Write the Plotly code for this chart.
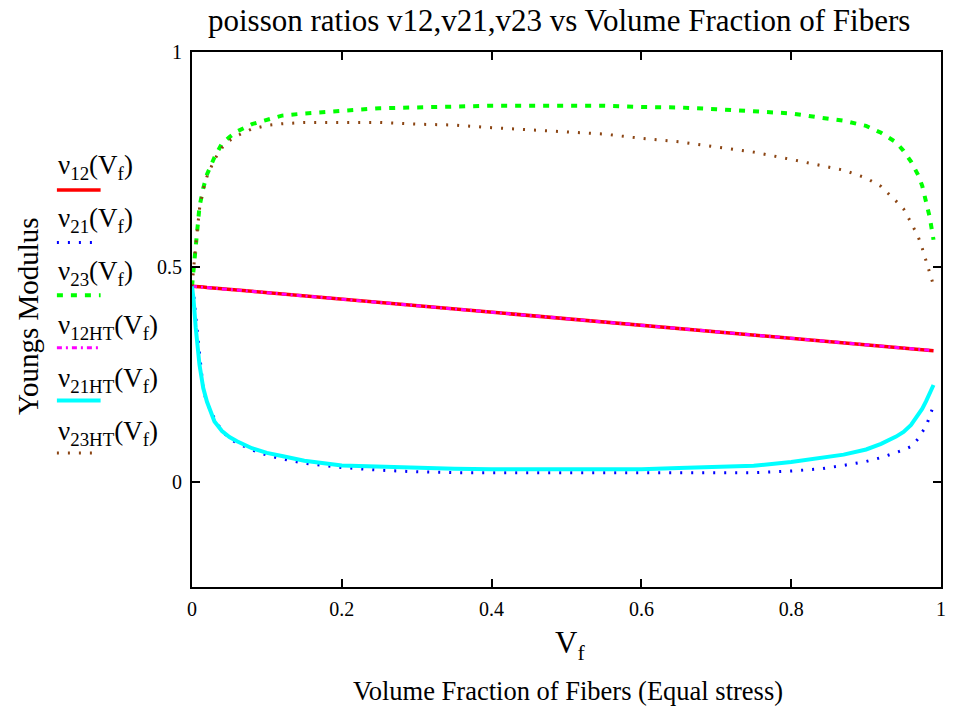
import plotly.graph_objects as go

# ---------------- data ----------------
vf = [0, 0.002, 0.005, 0.01, 0.015, 0.02, 0.03, 0.04, 0.05, 0.06, 0.08, 0.1, 0.12, 0.15,
      0.2, 0.25, 0.3, 0.35, 0.4, 0.45, 0.5, 0.55, 0.6, 0.65, 0.7, 0.75, 0.8, 0.84, 0.87,
      0.9, 0.92, 0.94, 0.95, 0.96, 0.97, 0.975, 0.98, 0.985, 0.99]

nu12 = [0.455, 0.455, 0.454, 0.453, 0.453, 0.452, 0.450, 0.449, 0.447, 0.446, 0.443, 0.440,
        0.437, 0.432, 0.425, 0.417, 0.410, 0.402, 0.394, 0.387, 0.379, 0.372, 0.364, 0.357,
        0.349, 0.341, 0.334, 0.328, 0.323, 0.319, 0.316, 0.313, 0.311, 0.310, 0.308, 0.307,
        0.307, 0.306, 0.305]

nu21 = [0.455, 0.440, 0.385, 0.295, 0.215, 0.183, 0.147, 0.118, 0.101, 0.090, 0.074, 0.062,
        0.053, 0.043, 0.033, 0.027, 0.023, 0.021, 0.021, 0.021, 0.021, 0.021, 0.021, 0.021,
        0.021, 0.021, 0.025, 0.030, 0.038, 0.047, 0.056, 0.067, 0.074, 0.082, 0.101, 0.116,
        0.128, 0.153, 0.177]

nu23 = [0.455, 0.490, 0.565, 0.640, 0.683, 0.715, 0.755, 0.787, 0.802, 0.815, 0.832, 0.843,
        0.852, 0.857, 0.864, 0.869, 0.871, 0.874, 0.875, 0.875, 0.875, 0.875, 0.872, 0.871,
        0.867, 0.863, 0.857, 0.847, 0.840, 0.828, 0.812, 0.790, 0.770, 0.745, 0.712, 0.688,
        0.655, 0.615, 0.563]

nu12HT = [0.455, 0.455, 0.454, 0.453, 0.453, 0.452, 0.450, 0.449, 0.447, 0.446, 0.443, 0.440,
          0.437, 0.432, 0.425, 0.417, 0.410, 0.402, 0.394, 0.387, 0.379, 0.372, 0.364, 0.357,
          0.349, 0.341, 0.334, 0.328, 0.323, 0.319, 0.316, 0.313, 0.311, 0.310, 0.308, 0.307,
          0.307, 0.306, 0.305]

nu21HT = [0.455, 0.425, 0.358, 0.272, 0.218, 0.186, 0.140, 0.118, 0.104, 0.094, 0.078, 0.067,
          0.060, 0.049, 0.038, 0.035, 0.033, 0.030, 0.029, 0.029, 0.029, 0.029, 0.029, 0.032,
          0.034, 0.037, 0.046, 0.056, 0.063, 0.075, 0.088, 0.105, 0.116, 0.132, 0.155, 0.170,
          0.187, 0.206, 0.225]

nu23HT = [0.455, 0.500, 0.550, 0.635, 0.680, 0.710, 0.750, 0.777, 0.794, 0.805, 0.821, 0.829,
          0.833, 0.836, 0.836, 0.836, 0.832, 0.830, 0.824, 0.819, 0.815, 0.809, 0.799, 0.791,
          0.779, 0.767, 0.750, 0.736, 0.725, 0.707, 0.687, 0.653, 0.635, 0.603, 0.568, 0.543,
          0.515, 0.483, 0.457]

series_names = ["12", "21", "23", "12HT", "21HT", "23HT"]
x_ticks = [0, 0.2, 0.4, 0.6, 0.8, 1]
x_tick_labels = ["0", "0.2", "0.4", "0.6", "0.8", "1"]
y_ticks = [0, 0.5, 1]
y_tick_labels = ["0", "0.5", "1"]

# ---------------- styling ----------------
FONT = "Liberation Serif, Times New Roman, serif"
styles = [
    dict(color="#FF0000", width=3.5, dash="solid"),
    dict(color="#0000FF", width=3, dash="2px,9px"),
    dict(color="#00FF00", width=4, dash="6px,8px"),
    dict(color="#FF00FF", width=3, dash="5px,4px,2px,4px"),
    dict(color="#00FFFF", width=4, dash="solid"),
    dict(color="#8B4513", width=3, dash="2px,9px"),
]
all_y = [nu12, nu21, nu23, nu12HT, nu21HT, nu23HT]

fig = go.Figure()
for name, ys, st in zip(series_names, all_y, styles):
    fig.add_trace(go.Scatter(x=vf, y=ys, mode="lines", name="ν" + name,
                             line=dict(color=st["color"], width=st["width"], dash=st["dash"]),
                             showlegend=False, hoverinfo="skip"))

W, H = 954, 715
L, R, T, B = 192, 8, 52, 128
pw, ph = W - L - R, H - T - B

def px_to_paper_x(px):
    return (px - L) / pw

def py_to_paper_y(py):
    return (H - B - py) / ph

annotations = []
shapes = []
# manual legend: label above, line sample below
for i, (name, st) in enumerate(zip(series_names, styles)):
    label_y = 167 + i * 53.2
    line_y = 190 + i * 52.6
    annotations.append(dict(
        text="ν<sub>%s</sub>(V<sub>f</sub>)" % name,
        x=px_to_paper_x(55), y=py_to_paper_y(label_y), xref="paper", yref="paper",
        xanchor="left", yanchor="middle", showarrow=False,
        font=dict(family=FONT, size=27, color="black")))
    shapes.append(dict(type="line", xref="paper", yref="paper",
                       x0=px_to_paper_x(56), x1=px_to_paper_x(100),
                       y0=py_to_paper_y(line_y), y1=py_to_paper_y(line_y),
                       line=dict(color=st["color"], width=st["width"], dash=st["dash"])))

annotations.append(dict(text="Youngs Modulus", textangle=-90,
                        x=px_to_paper_x(27), y=py_to_paper_y(316), xref="paper", yref="paper",
                        xanchor="center", yanchor="middle", showarrow=False,
                        font=dict(family=FONT, size=29, color="black")))
annotations.append(dict(text="V<sub>f</sub>",
                        x=px_to_paper_x(573), y=py_to_paper_y(645), xref="paper", yref="paper",
                        xanchor="center", yanchor="middle", showarrow=False,
                        font=dict(family=FONT, size=31, color="black")))
annotations.append(dict(text="Volume Fraction of Fibers (Equal stress)",
                        x=px_to_paper_x(571), y=py_to_paper_y(691), xref="paper", yref="paper",
                        xanchor="center", yanchor="middle", showarrow=False,
                        font=dict(family=FONT, size=26.5, color="black")))
annotations.append(dict(text="poisson ratios v12,v21,v23 vs Volume Fraction of Fibers",
                        x=px_to_paper_x(561), y=py_to_paper_y(21), xref="paper", yref="paper",
                        xanchor="center", yanchor="middle", showarrow=False,
                        font=dict(family=FONT, size=31, color="black")))

fig.update_layout(
    width=W, height=H,
    margin=dict(l=L, r=R, t=T, b=B),
    paper_bgcolor="white", plot_bgcolor="white",
    font=dict(family=FONT, size=20, color="black"),
    annotations=annotations, shapes=shapes,
    showlegend=False,
)
fig.update_xaxes(range=[0, 1], tickvals=x_ticks, ticktext=x_tick_labels,
                 showgrid=False, zeroline=False, showline=True, linecolor="black", linewidth=2,
                 mirror="ticks", ticks="inside", ticklen=8, tickwidth=2, tickcolor="black",
                 ticklabelstandoff=3, tickfont=dict(family=FONT, size=20))
fig.update_yaxes(range=[-0.245, 1], tickvals=y_ticks, ticktext=y_tick_labels,
                 showgrid=False, zeroline=False, showline=True, linecolor="black", linewidth=2,
                 mirror="ticks", ticks="inside", ticklen=8, tickwidth=2, tickcolor="black",
                 ticklabelstandoff=4, tickfont=dict(family=FONT, size=20))

fig.write_html("out.html")
